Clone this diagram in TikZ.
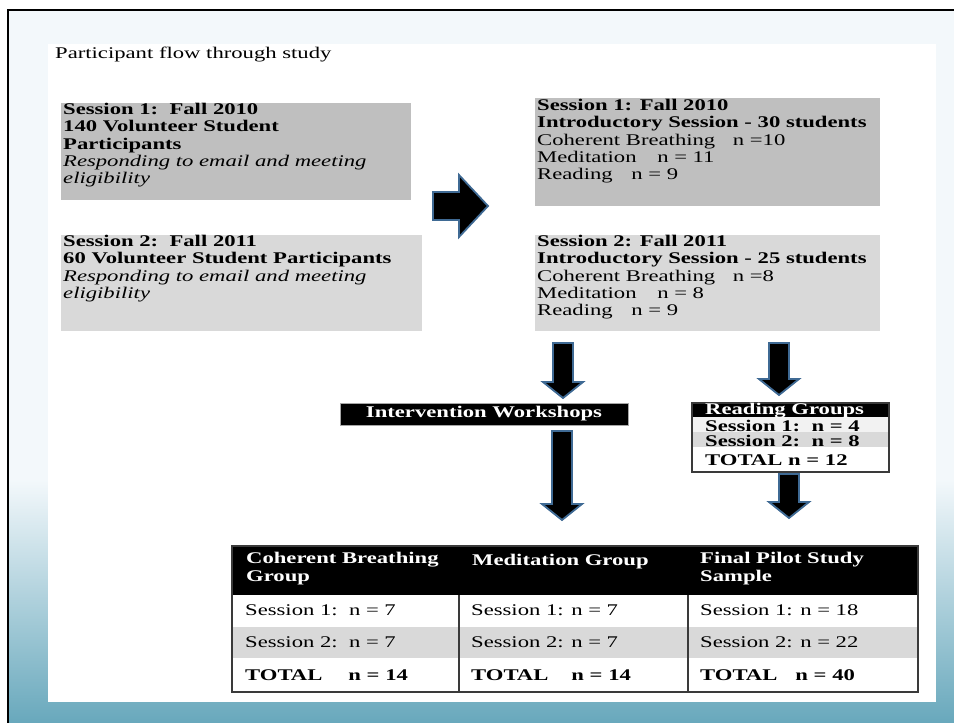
\documentclass[tikz,border=0pt]{standalone}
\usepackage{fontspec}
\setmainfont{Liberation Serif}[FakeStretch=1.39]
\usepackage{tikz}
\usetikzlibrary{calc}

\definecolor{boxdark}{HTML}{BFBFBF}
\definecolor{boxlight}{HTML}{D9D9D9}
\definecolor{rowlight}{HTML}{F2F2F2}
\definecolor{arrowedge}{HTML}{3F6A94}
\definecolor{slidebg}{HTML}{F3F8FB}
\definecolor{slideteal}{HTML}{68A8BC}
\definecolor{tableedge}{HTML}{3A3A3A}

\newcommand{\slidefont}{\fontsize{16.3}{17.3}\selectfont}
\newcommand{\headfont}{\fontsize{16.3}{18}\selectfont}

\tikzset{
	greybox/.style = {anchor=north west, inner sep=0pt, outer sep=0pt},
	boxtext/.style = {anchor=north west, inner sep=0pt, align=left, font=\slidefont, execute at begin node=\strut},
	headtext/.style = {anchor=north west, inner sep=0pt, align=left, font=\headfont\bfseries, text=white, execute at begin node=\strut},
	linetext/.style = {anchor=base west, inner sep=0pt, font=\slidefont},
	downblock/.style = {draw=arrowedge, line width=1.8pt, fill=black, line join=miter,
		to path={let \p1=(\tikztostart), \p2=(\tikztotarget) in
			(\x1-10pt,\y1) -- (\x1+10pt,\y1) -- (\x1+10pt,\y2+16pt) -- (\x1+20pt,\y2+16pt)
			-- (\x2,\y2) -- (\x1-20pt,\y2+16pt) -- (\x1-10pt,\y2+16pt) -- cycle}},
	rightblock/.style = {draw=arrowedge, line width=1.8pt, fill=black, line join=miter,
		to path={let \p1=(\tikztostart), \p2=(\tikztotarget) in
			(\x1,\y1+14pt) -- (\x2-29pt,\y1+14pt) -- (\x2-29pt,\y1+31pt) -- (\x2,\y2)
			-- (\x2-29pt,\y1-31pt) -- (\x2-29pt,\y1-14pt) -- (\x1,\y1-14pt) -- cycle}}
}

\begin{document}
\begin{tikzpicture}[x=1pt, y=-1pt]
	\useasboundingbox (0,0) rectangle (954,723);
	
	% slide
	\fill[slidebg] (8,10) rectangle (954,723);
	\shade[top color=slidebg, bottom color=slideteal] (8,480) rectangle (954,723);
	\fill[white] (48,44) rectangle (936,702);
	\draw[line width=2.5pt] (8,723) -- (8,10) -- (954,10);
	
	\node[linetext] (title) at (55,58) {Participant flow through study};
	
	% volunteers
	\node[greybox, fill=boxdark, minimum width=350, minimum height=97] (fallten) at (61,103) {};
	\node[boxtext] (falltentxt) at ($(fallten.north west)+(2,0)$) {\textbf{Session 1:\ \ Fall 2010}\\
		\textbf{140 Volunteer Student}\\
		\textbf{Participants}\\
		\textit{Responding to email and meeting}\\
		\textit{eligibility}};
	
	\node[greybox, fill=boxlight, minimum width=361, minimum height=96] (falleleven) at (61,235) {};
	\node[boxtext] (falleleventxt) at ($(falleleven.north west)+(2,0)$) {\textbf{Session 2:\ \ Fall 2011}\\
		\textbf{60 Volunteer Student Participants}\\
		\textit{Responding to email and meeting}\\
		\textit{eligibility}};
	
	% introductory sessions
	\node[greybox, fill=boxdark, minimum width=345, minimum height=108] (introten) at (535,98) {};
	\node[boxtext] (introtentxt) at ($(introten.north west)+(2,1)$) {\textbf{Session 1: Fall 2010}\\
		\textbf{Introductory Session - 30 students}\\
		Coherent Breathing\hspace{12pt} n =10\\
		Meditation\hspace{15pt} n = 11\\
		Reading\hspace{13pt} n = 9};
	
	\node[greybox, fill=boxlight, minimum width=345, minimum height=96] (introeleven) at (535,235) {};
	\node[boxtext] (introeleventxt) at ($(introeleven.north west)+(2,0)$) {\textbf{Session 2: Fall 2011}\\
		\textbf{Introductory Session - 25 students}\\
		Coherent Breathing\hspace{12pt} n =8\\
		Meditation\hspace{15pt} n = 8\\
		Reading\hspace{13pt} n = 9};
	
	% arrows
	\coordinate (volout) at (433,206);
	\coordinate (introin) at (488,206);
	\draw[rightblock] (volout) to (introin);
	
	\coordinate (wstop) at (563,343);
	\coordinate (wsin) at (563,398);
	\coordinate (wsout) at (562,431);
	\coordinate (wsend) at (562,520);
	\coordinate (rgtop) at (779,343);
	\coordinate (rgin) at (779,395);
	\coordinate (rgout) at (789,474);
	\coordinate (rgend) at (789,518);
	\draw[downblock] (wstop) to (wsin);
	\draw[downblock] (wsout) to (wsend);
	\draw[downblock] (rgtop) to (rgin);
	\draw[downblock] (rgout) to (rgend);
	
	% workshops and reading groups
	\node[greybox, fill=black, draw=gray!70, line width=0.8pt, minimum width=288, minimum height=22,
		text=white, font=\slidefont\bfseries] (workshops) at (340,403) {Intervention Workshops};
	
	\fill[black] (692,403) rectangle (889,417);
	\fill[rowlight] (692,417) rectangle (889,432);
	\fill[boxlight] (692,432) rectangle (889,447);
	\fill[white] (692,447) rectangle (889,472);
	\node[greybox, draw=tableedge, line width=1.2pt, minimum width=197, minimum height=69] (readgrp) at (692,403) {};
	\node[linetext, text=white, font=\slidefont\bfseries] (readgrphead) at (705,414) {Reading Groups};
	\node[linetext, font=\slidefont\bfseries] (readgrpone) at (705,431) {Session 1:\ \ n = 4};
	\node[linetext, font=\slidefont\bfseries] (readgrptwo) at (705,446) {Session 2:\ \ n = 8};
	\node[linetext, font=\slidefont\bfseries] (readgrptotal) at (705,465) {TOTAL n = 12};
	
	% results table
	\fill[white] (232,546) rectangle (918,692);
	\fill[black] (232,546) rectangle (918,595);
	\fill[boxlight] (232,627) rectangle (918,658);
	\draw[tableedge, line width=1.2pt] (459,595) -- (459,692);
	\draw[tableedge, line width=1.2pt] (688,595) -- (688,692);
	\node[greybox, draw=tableedge, line width=1.2pt, minimum width=686, minimum height=146] (results) at (232,546) {};
	
	\node[headtext] (cbhead) at (246,552.4) {Coherent Breathing\\ Group};
	\node[headtext] (medhead) at (472,552.4) {Meditation Group};
	\node[headtext] (finalhead) at (700,552.4) {Final Pilot Study\\ Sample};
	
	\node[linetext] (cbone) at (245,615) {Session 1:\ \ n = 7};
	\node[linetext] (cbtwo) at (245,647) {Session 2:\ \ n = 7};
	\node[linetext, font=\slidefont\bfseries] (cbtotal) at (245,680) {TOTAL\hspace{26pt}n = 14};
	
	\node[linetext] (medone) at (471,615) {Session 1: n = 7};
	\node[linetext] (medtwo) at (471,647) {Session 2: n = 7};
	\node[linetext, font=\slidefont\bfseries] (medtotal) at (471,680) {TOTAL\hspace{23pt}n = 14};
	
	\node[linetext] (finalone) at (700,615) {Session 1: n = 18};
	\node[linetext] (finaltwo) at (700,647) {Session 2: n = 22};
	\node[linetext, font=\slidefont\bfseries] (finaltotal) at (700,680) {TOTAL\hspace{18pt}n = 40};
\end{tikzpicture}
\end{document}
